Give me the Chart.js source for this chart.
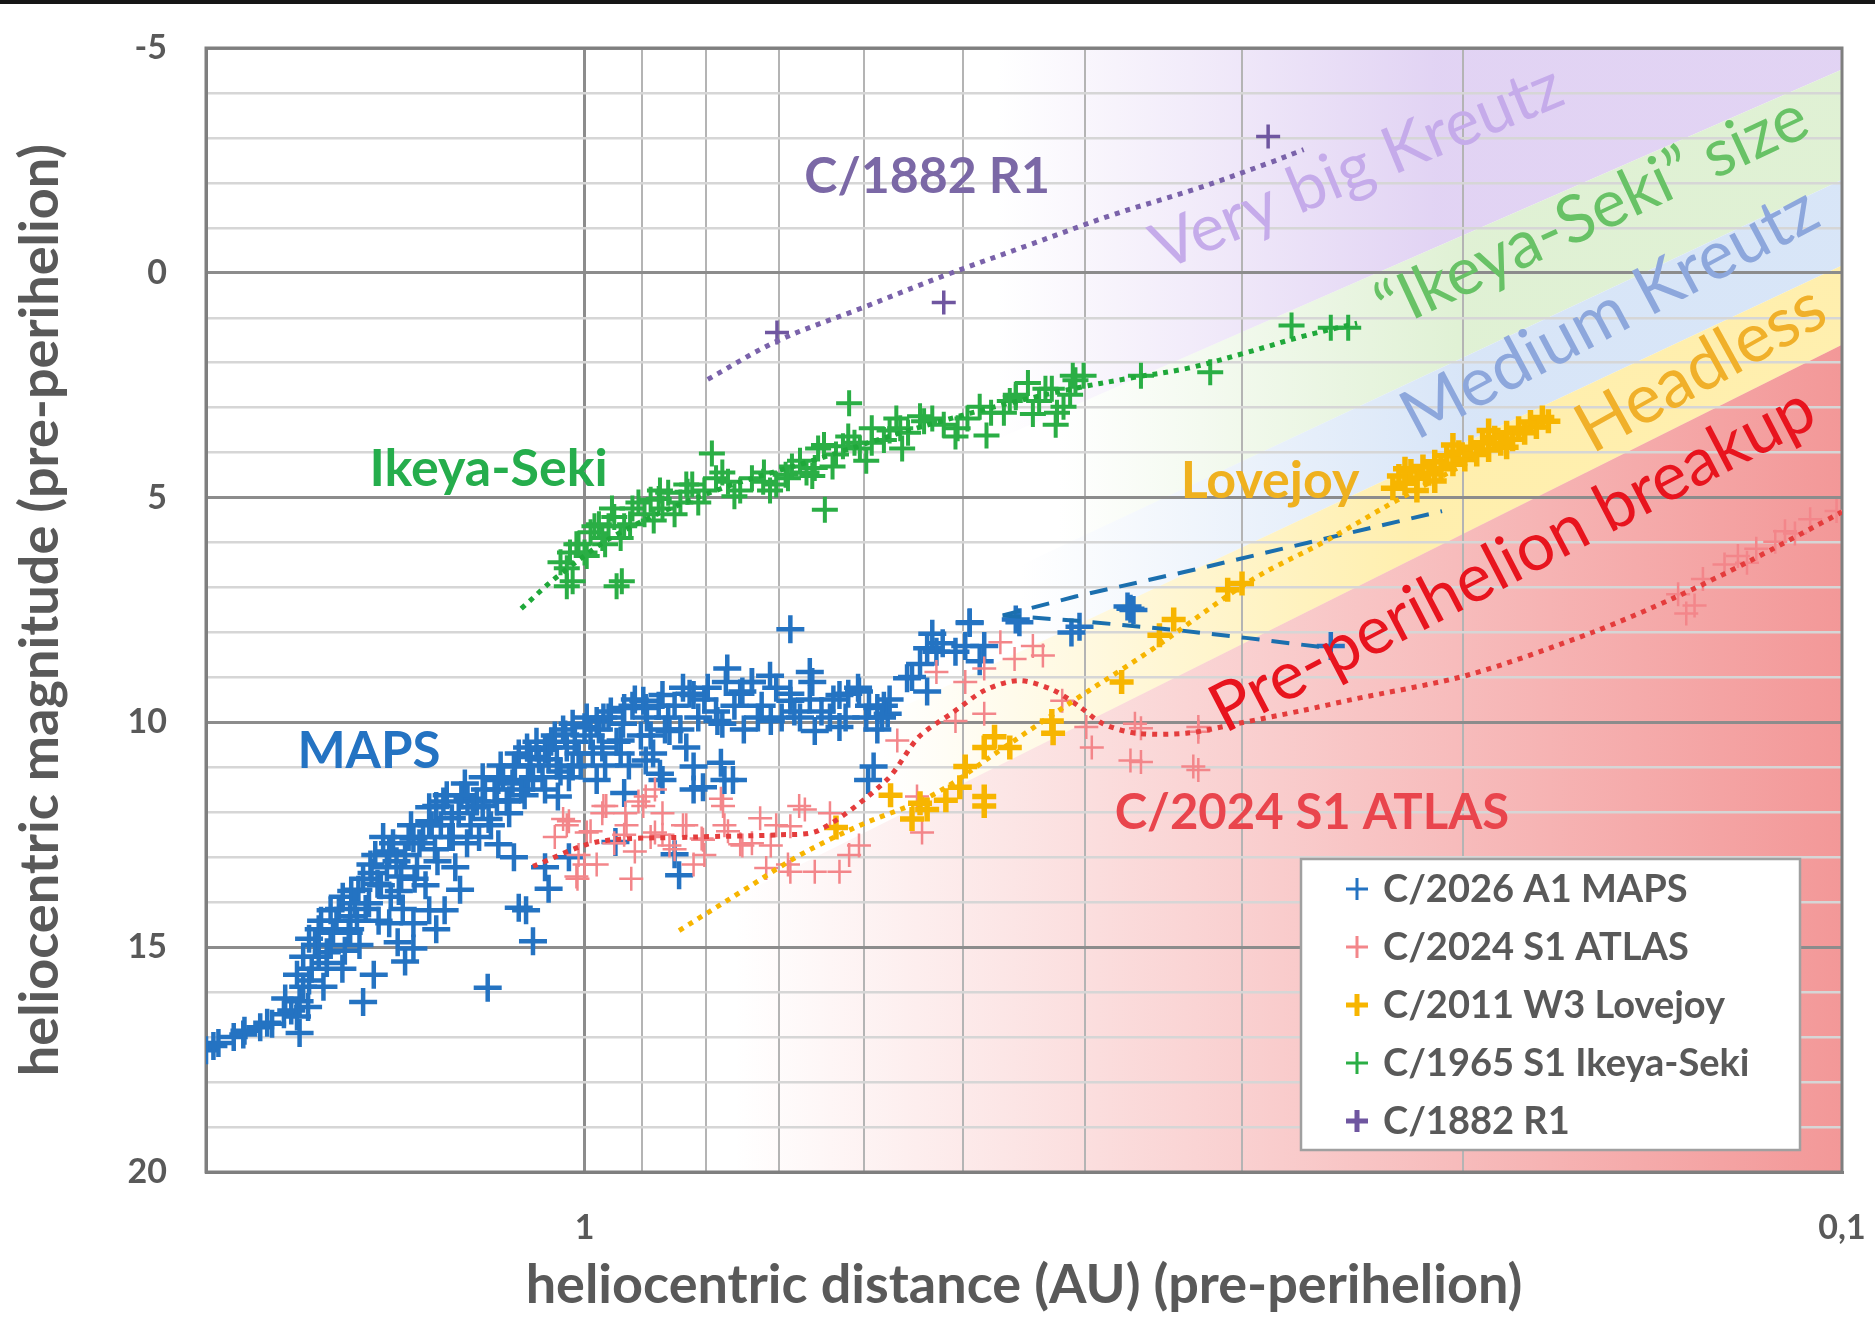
<!DOCTYPE html>
<html>
<head>
<meta charset="utf-8">
<title>Kreutz sungrazers - heliocentric magnitude</title>
<script src="https://cdn.jsdelivr.net/npm/chart.js@4.4.1/dist/chart.umd.min.js"></script>
<style>
    html, body { margin: 0; padding: 0; background: #fff; }
    #wrap { width: 1875px; height: 1318px; }
</style>
</head>
<body>
<div id="wrap"><canvas id="comet-chart" width="1875" height="1318"></canvas></div>
<script>
// [heliocentric distance AU, heliocentric magnitude]
const mapsPoints = [
    [2.0,17.29],[1.973,17.2],[1.955,17.13],[1.901,17.0],[1.868,16.94],[1.864,16.86],[1.811,16.78],[1.788,16.68],
    [1.772,16.7],[1.734,16.49],[1.730,16.14],[1.711,16.41],[1.693,16.54],[1.685,16.2],[1.685,16.91],[1.674,15.88],
    [1.659,16.33],[1.648,15.48],[1.638,14.95],[1.627,14.6],[1.620,14.41],[1.603,15.35],[1.603,15.11],[1.592,14.18],
    [1.585,14.68],[1.568,14.15],[1.557,13.88],[1.551,15.08],[1.536,14.31],[1.536,14.6],[1.533,13.75],[1.517,14.41],
    [1.513,13.72],[1.500,13.48],[1.50,16.22],[1.484,14.02],[1.48,13.16],[1.471,15.61],[1.467,12.95],[1.461,13.59],
    [1.452,13.62],[1.436,13.22],[1.43,12.87],[1.43,14.47],[1.420,12.69],[1.408,14.89],[1.405,13.75],[1.399,13.43],
    [1.389,12.95],[1.389,15.32],[1.374,12.29],[1.368,12.58],[1.368,15.03],[1.368,14.47],[1.359,13.22],[1.344,12.55],
    [1.329,12.2],[1.329,11.89],[1.329,14.18],[1.315,12.82],[1.312,11.86],[1.312,14.6],[1.301,12.29],[1.292,14.18],
    [1.287,11.62],[1.275,12.13],[1.273,12.55],[1.259,12.02],[1.256,13.72],[1.245,11.36],[1.239,11.7],[1.232,12.29],
    [1.218,11.76],[1.205,11.22],[1.205,11.86],[1.194,15.9],[1.192,12.15],[1.179,11.49],[1.171,11.28],[1.171,12.71],
    [1.166,10.96],[1.153,11.76],[1.148,11.73],[1.141,11.36],[1.138,10.98],[1.138,13.0],[1.128,10.69],[1.128,14.12],
    [1.116,11.62],[1.113,14.18],[1.109,11.28],[1.106,10.77],[1.104,10.96],[1.099,14.87],[1.092,10.43],[1.080,11.22],
    [1.075,10.61],[1.075,13.22],[1.068,10.56],[1.068,13.7],[1.068,10.82],[1.056,10.29],[1.05,11.65],[1.045,11.09],
    [1.036,10.27],[1.033,10.56],[1.029,13.0],[1.022,10.03],[1.022,10.98],[1.011,10.69],[1.0,10.11],[0.989,10.29],
    [0.978,9.97],[0.978,11.28],[0.968,10.56],[0.966,9.89],[0.957,9.89],[0.945,12.66],[0.936,10.69],[0.936,10.4],
    [0.93,9.68],[0.93,11.57],[0.916,9.63],[0.898,9.52],[0.894,9.68],[0.894,10.85],[0.886,10.29],[0.871,11.14],
    [0.867,9.39],[0.867,11.28],[0.858,9.89],[0.856,10.19],[0.848,12.93],[0.841,13.4],[0.835,9.23],[0.830,10.56],
    [0.819,9.39],[0.819,10.98],[0.819,11.49],[0.805,11.44],[0.803,9.49],[0.784,9.97],[0.779,10.9],[0.777,10.03],
    [0.774,11.28],[0.770,8.8],[0.762,11.28],[0.752,9.36],[0.749,9.31],[0.736,9.1],[0.728,9.89],[0.711,9.97],
    [0.704,9.23],[0.686,9.52],[0.686,7.93],[0.681,9.76],[0.662,8.88],[0.659,9.10],[0.656,10.19],[0.638,9.89],
    [0.627,9.39],[0.627,10.1],[0.617,9.36],[0.605,9.31],[0.597,9.89],[0.595,11.28],[0.589,10.98],[0.585,9.68],
    [0.585,10.16],[0.578,9.63],[0.574,9.81],[0.554,9.02],[0.534,8.35],[0.534,9.31],[0.525,8.43],[0.498,8.3],
    [0.494,7.77],[0.485,8.64],[0.481,8.3],[0.451,7.77],[0.41,8.0],[0.368,7.47],[0.37,7.42],[0.255,8.3],
    [1.693,15.61],[1.674,15.21],[1.656,14.81],[1.656,15.74],[1.627,15.21],[1.613,15.88],[1.592,14.95],[1.575,14.41],
    [1.558,15.48],[1.540,14.68],[1.523,14.02],[1.510,14.95],[1.493,14.15],[1.477,13.35],[1.458,14.41],[1.446,12.55],
    [1.426,13.88],[1.411,13.09],[1.395,14.15],[1.380,12.55],[1.365,13.48],[1.353,12.69],[1.338,13.62],[1.323,12.29],
    [1.309,13.09],[1.295,11.76],[1.281,12.55],[1.267,13.22],[1.253,11.62],[1.240,12.69],[1.227,11.89],[1.213,12.55],
    [1.200,11.49],[1.187,12.29],[1.174,11.76],[1.161,11.22],[1.148,12.02],[1.136,10.96],[1.123,11.49],[1.111,10.56],
    [1.099,11.22],[1.087,10.82],[1.075,11.49],[1.063,10.43],[1.052,10.96],[1.040,10.16],[1.029,11.22],[1.018,10.43],
    [1.007,10.96],[0.996,9.89],[0.985,10.69],[0.974,10.16],[0.963,10.96],[0.953,9.76],[0.943,10.43],[0.932,10.03],
    [0.922,10.96],[0.912,9.49],[0.902,10.29],[0.892,9.89],[0.882,10.69],[0.873,9.63],[0.863,10.16],[0.848,9.63],
    [0.839,10.16],[0.825,9.36],[0.812,9.89],[0.798,9.23],[0.786,9.76],[0.772,9.10],[0.760,9.63],[0.747,10.16],
    [0.736,9.10],[0.723,9.63],[0.712,8.96],[0.697,9.89],[0.686,9.36],[0.674,9.89],[0.662,9.49],[0.648,9.76],
    [0.634,9.49],[0.620,9.89],[0.606,9.23],[0.594,9.63],[0.580,9.89],[0.572,9.49],[0.549,8.99],[0.519,8.24],
    [0.494,7.79],[0.454,7.71],[0.404,7.87],[0.366,7.5],[0.541,8.70],[0.507,8.43],[0.529,8.03]
];
const atlasPoints = [
    [1.04,12.15],[1.029,12.2],[1.015,13.43],[1.013,13.48],[1.0,13.16],[0.996,12.45],[0.978,13.16],[0.966,11.86],
    [0.961,11.86],[0.93,12.5],[0.928,12.02],[0.918,13.48],[0.912,12.87],[0.898,11.86],[0.894,11.65],[0.879,11.49],
    [0.879,12.45],[0.867,12.5],[0.856,12.74],[0.835,12.29],[0.819,13.16],[0.807,12.58],[0.805,12.61],[0.779,11.7],
    [0.776,11.86],[0.774,12.29],[0.752,12.71],[0.749,12.74],[0.725,12.13],[0.717,13.24],[0.711,12.74],[0.689,13.16],
    [0.686,12.31],[0.686,13.32],[0.675,11.86],[0.668,11.94],[0.656,13.32],[0.638,12.02],[0.627,13.32],[0.616,12.95],
    [0.605,12.74],[0.564,10.4],[0.544,11.65],[0.539,12.45],[0.525,8.88],[0.507,9.97],[0.498,9.1],[0.481,8.8],
    [0.481,9.81],[0.467,8.22],[0.455,8.59],[0.44,8.3],[0.432,8.51],[0.417,9.52],[0.399,10.1],[0.395,10.56],
    [0.368,10.85],[0.365,10.03],[0.361,10.13],[0.361,10.88],[0.328,10.98],[0.325,10.1],[0.325,10.21],[0.325,11.06],
    [1.056,12.55],[1.033,12.29],[1.011,12.95],[0.989,12.42],[0.968,12.02],[0.947,12.69],[0.926,12.29],[0.906,11.76],
    [0.886,12.55],[0.867,12.02],[0.848,12.82],[0.830,12.29],[0.803,12.95],[0.769,12.42],[0.736,12.69],[0.704,12.29],
    [0.135,7.15],[0.133,7.58],[0.131,7.4],[0.129,6.81],[0.124,6.49],[0.121,6.3],[0.119,6.45],[0.117,6.14],
    [0.113,5.98],[0.111,5.75],[0.109,5.8],[0.106,5.48],[0.101,5.3]
];
const lovejoyPoints = [
    [0.631,12.34],[0.571,11.62],[0.549,12.15],[0.541,11.8],[0.534,11.94],[0.516,11.73],[0.503,11.44],[0.498,10.98],
    [0.481,11.65],[0.481,11.86],[0.481,10.56],[0.472,10.32],[0.459,10.56],[0.425,9.97],[0.424,10.24],[0.374,9.1],
    [0.349,8.06],[0.340,7.71],[0.308,7.05],[0.300,6.91],
    [0.2276,4.79],[0.2251,4.52],[0.2226,4.68],[0.2202,4.41],[0.2178,4.57],[0.2154,4.31],[0.2131,4.47],[0.2108,4.20],
    [0.2084,4.36],[0.2062,4.07],[0.2039,4.26],[0.2017,3.99],[0.1995,4.15],[0.1973,3.88],[0.1952,4.04],[0.1931,3.78],
    [0.1910,3.94],[0.1889,3.67],[0.1868,3.80],[0.1848,3.56],[0.1828,3.70],[0.1808,3.46],[0.1788,3.56],[0.1769,3.32],
    [0.1750,3.43],[0.1731,3.22],[0.1712,3.30],[0.2178,4.84],[0.2108,4.63],[0.2039,3.83],[0.1910,3.51],[0.2226,4.36],
    [0.1848,3.88]
];
const ikeyaPoints = [
    [1.045,6.44],[1.033,6.97],[1.027,6.22],[1.022,6.86],[1.011,6.04],[1.0,6.22],[0.989,5.77],[0.974,5.59],
    [0.968,5.9],[0.957,5.64],[0.947,5.43],[0.943,6.97],[0.936,5.9],[0.934,6.86],[0.92,5.59],[0.916,5.24],
    [0.896,5.37],[0.886,5.05],[0.873,5.03],[0.867,5.24],[0.858,4.89],[0.839,5.11],[0.828,4.87],[0.821,4.71],
    [0.803,4.84],[0.792,4.02],[0.786,4.57],[0.769,4.65],[0.752,4.84],[0.721,4.65],[0.720,4.44],[0.704,4.71],
    [0.692,4.49],[0.689,4.57],[0.674,4.18],[0.659,4.52],[0.656,4.34],[0.645,3.83],[0.644,5.27],[0.631,4.04],
    [0.623,3.86],[0.617,3.64],[0.616,2.9],[0.604,3.91],[0.591,3.46],[0.591,3.78],[0.578,3.72],[0.565,3.24],
    [0.561,3.46],[0.553,3.56],[0.541,3.19],[0.537,3.3],[0.518,3.38],[0.505,3.46],[0.496,3.24],[0.485,2.98],
    [0.479,3.62],[0.464,3.11],[0.454,2.71],[0.454,2.77],[0.444,2.45],[0.44,3.14],[0.435,2.85],[0.425,2.58],
    [0.422,3.38],[0.416,2.98],[0.409,2.29],[0.407,2.39],[0.401,2.29],[0.361,2.29],[0.318,2.21],[0.274,1.17],
    [0.255,1.22],[0.247,1.22],
    [1.033,6.57],[1.015,6.04],[0.996,6.30],[0.982,5.64],[0.963,6.04],[0.951,5.24],[0.930,5.64],[0.906,5.11],
    [0.881,5.51],[0.871,4.84],[0.848,5.37],[0.830,4.71],[0.812,5.11],[0.777,4.44],[0.760,4.97],[0.736,4.57],
    [0.712,4.84],[0.684,4.31],[0.666,4.44],[0.652,3.91],[0.635,4.31],[0.610,3.78],[0.597,4.18],[0.572,3.51],
    [0.559,3.91],[0.529,3.24],[0.507,3.64],[0.475,3.11],[0.459,2.85],[0.430,2.58],[0.421,3.11],[0.411,2.71]
];
const greatCometPoints = [[0.703,1.33],[0.518,0.66],[0.286,-3.03]];

// trend lines drawn by hand on the original
const trend1882 = [[0.798,2.37],[0.703,1.52],[0.604,0.80],[0.516,0.05],[0.444,-0.61],[0.381,-1.28],[0.327,-1.86],[0.287,-2.42],[0.268,-2.74]];
const trendIkeya = [[1.123,7.47],[1.045,6.70],[0.936,5.77],[0.786,4.84],[0.659,4.18],[0.553,3.51],[0.464,2.93],[0.409,2.58],[0.368,2.34],[0.331,2.12],[0.298,1.78],[0.269,1.42],[0.243,1.12]];
const trendLovejoy = [[0.841,14.63],[0.749,13.75],[0.674,12.95],[0.604,12.29],[0.529,11.62],[0.464,10.56],[0.407,9.49],[0.356,8.43],[0.295,6.84],[0.258,5.98],[0.2256,5.05],[0.1973,4.18],[0.1731,3.30]];
const trendAtlas = [[1.099,13.2],[0.978,12.66],[0.819,12.55],[0.700,12.5],[0.651,12.4],[0.575,11.28],[0.542,10.32],[0.510,9.79],[0.480,9.28],[0.451,9.07],[0.424,9.28],[0.404,9.65],[0.387,10.03],[0.364,10.24],[0.332,10.24],[0.303,10.03],[0.268,9.73],[0.246,9.5],[0.198,8.94],[0.158,8.0],[0.136,7.23],[0.119,6.44],[0.100,5.32]];
const trendMapsHigh = [[0.465,7.62],[0.407,7.2],[0.327,6.6],[0.262,5.96],[0.208,5.3]];
const trendMapsLow = [[0.465,7.62],[0.402,7.75],[0.337,7.95],[0.298,8.12],[0.255,8.35]];

// axis ticks
const xGridValues = [1, 0.9, 0.8, 0.7, 0.6, 0.5, 0.4, 0.3, 0.2, 0.1];
const xTickLabels = { 1: '1', 0.1: '0,1' };
const yLabelStep = 5;

// series names (legend order)
const seriesNames = ['C/2026 A1 MAPS', 'C/2024 S1 ATLAS', 'C/2011 W3 Lovejoy', 'C/1965 S1 Ikeya-Seki', 'C/1882 R1'];
const seriesColors = ['#2473c2', '#f3868a', '#f7b500', '#2aae45', '#6f56a0'];

// size zones: boundaries are straight lines through two [AU, mag] points
const zoneEdges = [
    [0.1, -4.52, 0.631, 5.27],
    [0.1, -2.07, 0.631, 8.43],
    [0.1, -0.16, 0.631, 10.35],
    [0.1, 1.60, 0.786, 14.10]
];
const zones = [
    { top: null, bottom: 0, rgb: '224,209,243', alpha: 0.95, fade: [0.47, 0.21] },
    { top: 0, bottom: 1, rgb: '222,240,210', alpha: 0.95, fade: [0.42, 0.2] },
    { top: 1, bottom: 2, rgb: '214,228,247', alpha: 0.95, fade: [0.45, 0.2] },
    { top: 2, bottom: 3, rgb: '255,237,165', alpha: 0.9, fade: [0.58, 0.22] },
    { top: 3, bottom: null, rgb: '238,112,112', alpha: 0.72, fade: [0.76, 0.1] }
];

// text written on the plot: [text, AU, mag, angle, colour, font]
const notes = [
    ['C/1882 R1', 0.534, -2.13, 0, '#7b68a6', 'bold 50px Lato'],
    ['Ikeya-Seki', 1.192, 4.36, 0, '#25ad4c', 'bold 52px Lato'],
    ['MAPS', 1.484, 10.64, 0, '#2473c2', 'bold 51px Lato'],
    ['Lovejoy', 0.285, 4.63, 0, '#efb11f', 'bold 52px Lato'],
    ['C/2024 S1 ATLAS', 0.264, 12.02, 0, '#e9454d', 'bold 49px Lato'],
    ['Very big Kreutz', 0.243, -2.34, 22.5, '#c5abea', '65px Lato'],
    ['\u201cIkeya-Seki\u201d size', 0.158, -1.33, 25, '#68c266', '66px Lato'],
    ['Medium Kreutz', 0.153, 0.90, 28, '#8da7dc', '68px Lato'],
    ['Headless', 0.1295, 2.13, 29, '#f0b02a', '69px Lato'],
    ['Pre-perihelion breakup', 0.1828, 6.38, 27.5, '#e8141e', '67px Lato']
];

const toXY = pts => pts.map(([x, y]) => ({ x, y }));

function pointSeries(i, data, width, radius, order) {
    return {
        type: 'scatter',
        label: seriesNames[i],
        data: toXY(data),
        pointStyle: 'cross',
        pointRadius: radius,
        pointBorderWidth: width,
        borderColor: seriesColors[i],
        backgroundColor: seriesColors[i],
        order: order,
    };
}

function trendLine(data, color, dash, width, tension) {
    return {
        type: 'line',
        label: '',
        data: toXY(data),
        borderColor: color,
        borderWidth: width,
        borderDash: dash,
        pointRadius: 0,
        fill: false,
        tension: tension,
        order: 0,
    };
}

const zonesPlugin = {
    id: 'zones',
    beforeDraw(chart) {
        const { ctx, chartArea: a, scales: { x, y } } = chart;
        ctx.save();
        ctx.fillStyle = '#ffffff';
        ctx.fillRect(0, 0, chart.width, chart.height);
        ctx.fillStyle = '#161616';
        ctx.fillRect(0, 0, chart.width, 4);
        ctx.beginPath();
        ctx.rect(a.left, a.top, a.right - a.left, a.bottom - a.top);
        ctx.clip();
        const edgeY = (idx, px, fallback) => {
            if (idx === null) return fallback;
            const e = zoneEdges[idx];
            const x1 = x.getPixelForValue(e[0]), y1 = y.getPixelForValue(e[1]);
            const x2 = x.getPixelForValue(e[2]), y2 = y.getPixelForValue(e[3]);
            return y1 + (y2 - y1) * (px - x1) / (x2 - x1);
        };
        zones.forEach(z => {
            const g = ctx.createLinearGradient(x.getPixelForValue(z.fade[0]), 0, x.getPixelForValue(z.fade[1]), 0);
            g.addColorStop(0, `rgba(${z.rgb},0)`);
            g.addColorStop(1, `rgba(${z.rgb},${z.alpha})`);
            ctx.fillStyle = g;
            ctx.beginPath();
            ctx.moveTo(a.left, edgeY(z.top, a.left, a.top));
            ctx.lineTo(a.right, edgeY(z.top, a.right, a.top));
            ctx.lineTo(a.right, edgeY(z.bottom, a.right, a.bottom));
            ctx.lineTo(a.left, edgeY(z.bottom, a.left, a.bottom));
            ctx.closePath();
            ctx.fill();
        });
        ctx.restore();
    },
    beforeDatasetsDraw(chart) {
        const { ctx, chartArea: a } = chart;
        ctx.save();
        ctx.strokeStyle = '#7f7f7f';
        ctx.lineWidth = 3;
        ctx.strokeRect(a.left, a.top, a.right - a.left, a.bottom - a.top);
        ctx.restore();
    }
};

const notesPlugin = {
    id: 'notes',
    afterDatasetsDraw(chart) {
        const { ctx, scales: { x, y } } = chart;
        notes.forEach(([text, au, mag, angle, color, font]) => {
            ctx.save();
            ctx.translate(x.getPixelForValue(au), y.getPixelForValue(mag));
            ctx.rotate(-angle * Math.PI / 180);
            ctx.font = font;
            ctx.fillStyle = color;
            ctx.textAlign = 'center';
            ctx.textBaseline = 'middle';
            ctx.fillText(text, 0, 0);
            ctx.restore();
        });
    },
    afterDraw(chart) {
        // legend box sitting inside the plot, lower right
        const { ctx, chartArea: a } = chart;
        const left = a.right - 541, top = a.bottom - 313, w = 499, h = 291;
        ctx.save();
        ctx.fillStyle = '#ffffff';
        ctx.fillRect(left, top, w, h);
        ctx.strokeStyle = '#a0a0a0';
        ctx.lineWidth = 2.5;
        ctx.strokeRect(left, top, w, h);
        ctx.font = 'bold 38px Lato';
        ctx.textBaseline = 'middle';
        seriesNames.forEach((name, i) => {
            const cy = top + 30 + i * 58;
            const cx = left + 56;
            ctx.strokeStyle = seriesColors[i];
            ctx.lineWidth = i === 2 || i === 4 ? 5 : 3;
            ctx.beginPath();
            ctx.moveTo(cx - 11, cy); ctx.lineTo(cx + 11, cy);
            ctx.moveTo(cx, cy - 11); ctx.lineTo(cx, cy + 11);
            ctx.stroke();
            ctx.fillStyle = '#595959';
            ctx.fillText(name, left + 82, cy + 1);
        });
        ctx.restore();
    }
};

const axisFont = { family: 'Lato', size: 54, weight: 'bold' };
const tickFont = { family: 'Lato', size: 34, weight: 'bold' };

new Chart('comet-chart', {
    data: {
        datasets: [
            trendLine(trend1882, '#7a62aa', [5, 6], 5, 0.35),
            trendLine(trendIkeya, '#1fa83a', [5, 6], 5, 0.35),
            trendLine(trendLovejoy, '#f7b500', [5, 6], 5, 0.35),
            trendLine(trendAtlas, '#e43c3c', [5, 6], 5, 0.3),
            trendLine(trendMapsHigh, '#1b6fae', [18, 12], 4, 0),
            trendLine(trendMapsLow, '#1b6fae', [18, 12], 4, 0),
            pointSeries(0, mapsPoints, 4.5, 14, 5),
            pointSeries(1, atlasPoints, 2.5, 12, 4),
            pointSeries(2, lovejoyPoints, 5.5, 12, 3),
            pointSeries(3, ikeyaPoints, 4, 13, 2),
            pointSeries(4, greatCometPoints, 3.5, 12, 1),
        ]
    },
    options: {
        responsive: false,
        animation: false,
        events: [],
        layout: { padding: { top: 48, right: 33, left: 0, bottom: 0 } },
        plugins: {
            legend: { display: false },
            tooltip: { enabled: false },
        },
        scales: {
            x: {
                type: 'logarithmic',
                reverse: true,
                min: 0.1,
                max: 2,
                afterBuildTicks: scale => { scale.ticks = xGridValues.map(v => ({ value: v })); },
                afterFit: scale => { scale.height = 146; },
                ticks: {
                    autoSkip: false,
                    maxRotation: 0,
                    padding: 3,
                    color: '#595959',
                    font: tickFont,
                    callback: v => xTickLabels[v] || '',
                },
                grid: {
                    drawTicks: true,
                    tickLength: 33,
                    tickColor: 'rgba(0,0,0,0)',
                    color: c => (c.tick && (c.tick.value === 1 || c.tick.value === 0.1)) ? '#8c8c8c' : '#b4b4b4',
                    lineWidth: c => (c.tick && c.tick.value === 1) ? 3 : 2,
                },
                border: { display: true, color: '#7f7f7f', width: 3 },
                title: {
                    display: true,
                    text: 'heliocentric distance (AU) (pre-perihelion)',
                    color: '#595959',
                    font: axisFont,
                    padding: { top: 0, bottom: 0 },
                },
            },
            y: {
                type: 'linear',
                reverse: true,
                min: -5,
                max: 20,
                afterFit: scale => { scale.width = 206; },
                ticks: {
                    stepSize: 1,
                    autoSkip: false,
                    padding: 3,
                    color: '#595959',
                    font: tickFont,
                    callback: v => (v % yLabelStep === 0 ? String(v) : ''),
                },
                grid: {
                    drawTicks: true,
                    tickLength: 36,
                    tickColor: 'rgba(0,0,0,0)',
                    color: c => (c.tick && c.tick.value % yLabelStep === 0) ? '#8c8c8c' : '#d6d6d6',
                    lineWidth: c => (c.tick && c.tick.value % yLabelStep === 0) ? 3 : 2.5,
                },
                border: { display: true, color: '#7f7f7f', width: 3 },
                title: {
                    display: true,
                    text: 'heliocentric magnitude (pre-perihelion)',
                    color: '#595959',
                    font: axisFont,
                    padding: { top: 8, bottom: 0 },
                },
            },
        },
    },
    plugins: [zonesPlugin, notesPlugin],
});
</script>
</body>
</html>
